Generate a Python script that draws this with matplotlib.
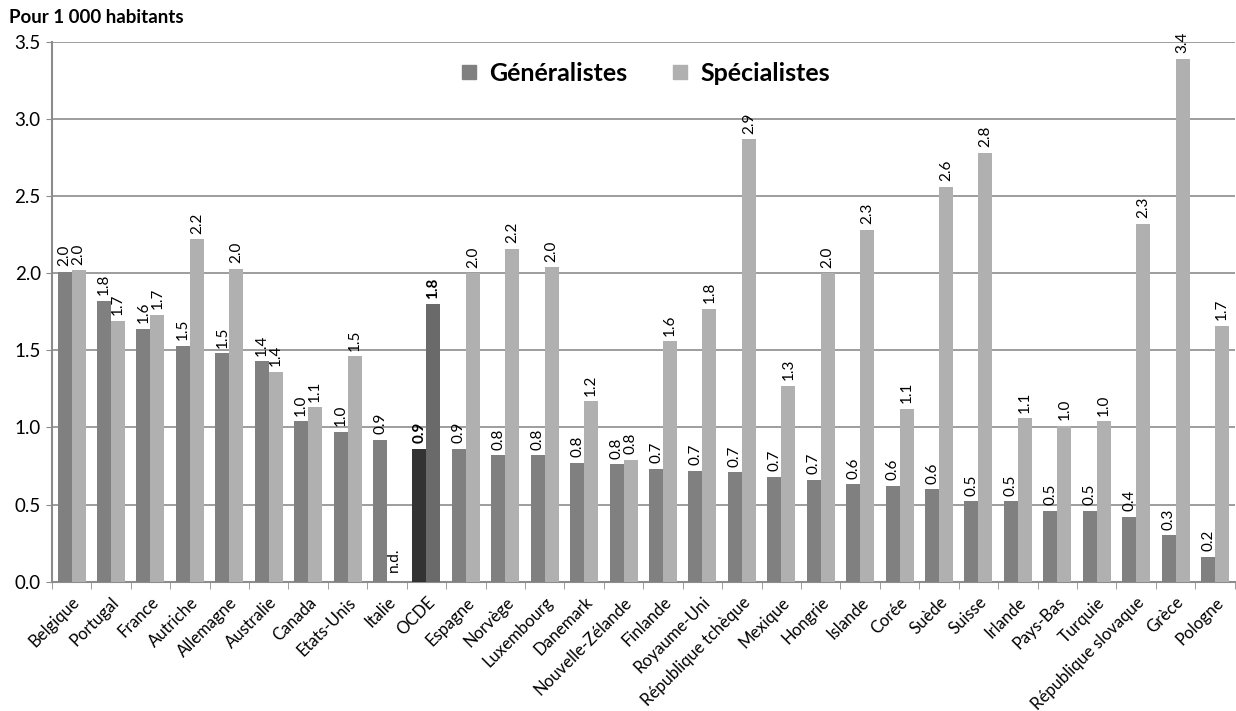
import numpy as np
import matplotlib
matplotlib.use('Agg')
import matplotlib.pyplot as plt
from matplotlib.lines import Line2D

plt.rcParams['font.family'] = ['Lato', 'DejaVu Sans']

pays = ['Belgique', 'Portugal', 'France', 'Autriche', 'Allemagne', 'Australie', 'Canada',
        'Etats-Unis', 'Italie', 'OCDE', 'Espagne', 'Norvège', 'Luxembourg', 'Danemark',
        'Nouvelle-Zélande', 'Finlande', 'Royaume-Uni', 'République tchèque', 'Mexique',
        'Hongrie', 'Islande', 'Corée', 'Suède', 'Suisse', 'Irlande', 'Pays-Bas', 'Turquie',
        'République slovaque', 'Grèce', 'Pologne']
generalistes = [2.01, 1.82, 1.64, 1.53, 1.48, 1.43, 1.04, 0.97, 0.92, 0.86, 0.86, 0.82, 0.82,
                0.77, 0.76, 0.73, 0.72, 0.71, 0.68, 0.66, 0.63, 0.62, 0.60, 0.52, 0.52, 0.46,
                0.46, 0.42, 0.30, 0.16]
specialistes = [2.02, 1.69, 1.73, 2.22, 2.03, 1.36, 1.13, 1.46, np.nan, 1.80, 2.00, 2.16, 2.04,
                1.17, 0.79, 1.56, 1.77, 2.87, 1.27, 2.00, 2.28, 1.12, 2.56, 2.78, 1.06, 1.01,
                1.04, 2.32, 3.39, 1.66]

c_gen = '#808080'
c_spe = '#b0b0b0'

fig = plt.figure(figsize=(12.36, 7.11), dpi=100)
ax = fig.add_axes([0.042, 0.182, 0.957, 0.759])

x = np.arange(len(pays))
w = 0.355
gen_col = [c_gen] * len(pays)
spe_col = [c_spe] * len(pays)
i_ocde = pays.index('OCDE')
gen_col[i_ocde] = '#333333'
spe_col[i_ocde] = '#6a6a6a'

spe_vals = np.nan_to_num(np.array(specialistes))
ax.bar(x - w / 2, generalistes, w, color=gen_col, zorder=3)
ax.bar(x + w / 2, spe_vals, w, color=spe_col, zorder=3)

for i in range(len(pays)):
    wt = 'bold' if i == i_ocde else 'normal'
    ax.annotate(f'{generalistes[i]:.1f}', (x[i] - w / 2, generalistes[i]), xytext=(0, 4),
                textcoords='offset points', rotation=90, ha='center', va='bottom',
                fontsize=11, fontweight=wt)
    if np.isnan(specialistes[i]):
        ax.annotate('n.d.', (x[i] + w / 2, 0), xytext=(0, 7), textcoords='offset points',
                    rotation=90, ha='center', va='bottom', fontsize=11)
    else:
        ax.annotate(f'{specialistes[i]:.1f}', (x[i] + w / 2, specialistes[i]), xytext=(0, 4),
                    textcoords='offset points', rotation=90, ha='center', va='bottom',
                    fontsize=11, fontweight=wt)

ax.set_xlim(-0.5, len(pays) - 0.5)
ax.set_ylim(0, 3.5)
ax.set_yticks(np.arange(0, 3.51, 0.5))
ax.set_yticklabels([f'{v:.1f}' for v in np.arange(0, 3.51, 0.5)], fontsize=13.5)
ax.yaxis.grid(True, color='#8c8c8c', linewidth=1.2, zorder=0)
ax.set_axisbelow(True)

ax.set_xticks(x)
ax.set_xticklabels(pays, rotation=45, ha='right', rotation_mode='anchor', fontsize=12)
ax.tick_params(axis='x', length=0, pad=9)
ax.set_xticks(np.arange(-0.5, len(pays)), minor=True)
ax.tick_params(axis='x', which='minor', length=5, color='#8c8c8c')
ax.tick_params(axis='y', length=4, color='#8c8c8c', pad=4)

for s in ['top', 'right']:
    ax.spines[s].set_visible(False)
for s in ['left', 'bottom']:
    ax.spines[s].set_color('#8c8c8c')
    ax.spines[s].set_linewidth(1.5)

handles = [Line2D([], [], marker='s', linestyle='none', markersize=10, color=c_gen),
           Line2D([], [], marker='s', linestyle='none', markersize=10, color=c_spe)]
ax.legend(handles, ['Généralistes', 'Spécialistes'], loc='center',
          bbox_to_anchor=(0.5, 0.942), ncol=2, frameon=False, handletextpad=0.3,
          handlelength=1.0, columnspacing=1.6, prop={'weight': 'bold', 'size': 18})

fig.text(0.007, 0.975, 'Pour 1 000 habitants', fontsize=13.5, fontweight='bold', va='center')

fig.savefig('out.png', dpi=100)
